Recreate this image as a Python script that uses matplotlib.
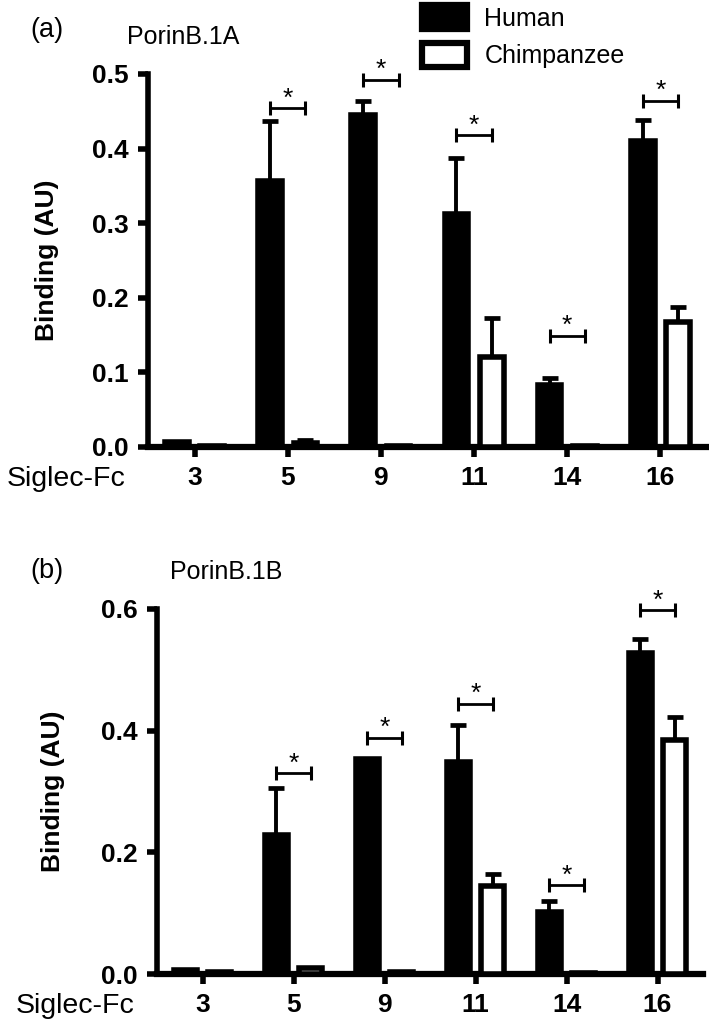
import matplotlib.pyplot as plt
import numpy as np
from matplotlib.patches import Patch

plt.rcParams['font.family'] = ['Liberation Sans', 'DejaVu Sans']

siglecs = ['3', '5', '9', '11', '14', '16']

# (a) PorinB.1A
a_human = [0.007, 0.356, 0.445, 0.313, 0.083, 0.410]
a_human_err = [0.0, 0.081, 0.019, 0.074, 0.010, 0.028]
a_chimp = [0.002, 0.006, 0.001, 0.121, 0.001, 0.168]
a_chimp_err = [0.0, 0.003, 0.0, 0.052, 0.0, 0.019]
a_sig_y = [np.nan, 0.454, 0.492, 0.418, 0.149, 0.464]

# (b) PorinB.1B
b_human = [0.007, 0.228, 0.353, 0.348, 0.102, 0.528]
b_human_err = [0.0, 0.077, 0.0, 0.062, 0.018, 0.022]
b_chimp = [0.003, 0.010, 0.003, 0.145, 0.002, 0.385]
b_chimp_err = [0.0, 0.0, 0.0, 0.019, 0.0, 0.037]
b_sig_y = [np.nan, 0.33, 0.388, 0.444, 0.146, 0.598]

W, H = 709, 1026
fig = plt.figure(figsize=(W / 100, H / 100), dpi=100)

FS = 18
off = 0.19
bw = 0.255


def draw_panel(ax, human, human_err, chimp, chimp_err, sig_y, ymax, ystep, ylab_x):
    x = np.arange(len(siglecs))
    ax.bar(x - off, human, bw, color='black', edgecolor='black', linewidth=4, zorder=3)
    ax.bar(x + off, chimp, bw, color='white', edgecolor='black', linewidth=4, zorder=3)

    # one-sided (upper) error bars, skip the ones that are zero
    for xs, vals, errs in [(x - off, human, human_err), (x + off, chimp, chimp_err)]:
        vals = np.array(vals)
        errs = np.array(errs)
        m = errs > 0
        ax.errorbar(xs[m], vals[m], yerr=[np.zeros(m.sum()), errs[m]], fmt='none',
                    ecolor='black', elinewidth=2.8, capsize=5.8, capthick=3.4, zorder=2)

    # significance brackets
    for xi, y in zip(x, sig_y):
        if np.isnan(y):
            continue
        ax.plot([xi - off, xi + off], [y, y], color='black', lw=2.0,
                marker='|', markersize=10, mew=2.2, zorder=4, clip_on=False)
        ax.annotate('*', xy=(xi, y), xytext=(0, 2), textcoords='offset points',
                    ha='center', va='baseline', fontsize=19, annotation_clip=False)

    ax.set_xlim(-0.5, len(siglecs) - 0.5)
    ax.set_ylim(0, ymax)
    ax.set_xticks(x)
    ax.set_xticklabels(siglecs, fontweight='bold')
    yt = np.arange(0, ymax + ystep / 2, ystep)
    ax.set_yticks(yt)
    ax.set_yticklabels(['%.1f' % v for v in yt], fontweight='bold')
    for s in ['top', 'right']:
        ax.spines[s].set_visible(False)
    ax.spines['left'].set_linewidth(4)
    ax.spines['bottom'].set_linewidth(4.5)
    ax.tick_params(direction='out', length=7, width=4, labelsize=19, pad=7)
    ax.annotate('Siglec-Fc', xy=(0, 0), xycoords='axes fraction', xytext=(-16, -14),
                textcoords='offset points', ha='right', va='top', fontsize=20.5)
    ax.text(ylab_x, 0.5, 'Binding (AU)', transform=ax.transAxes, rotation=90,
            ha='center', va='center', fontsize=19, fontweight='bold')


# panel (a)
ax1 = fig.add_axes([148 / W, 1 - 447 / H, (707 - 148) / W, (447 - 74) / H])
draw_panel(ax1, a_human, a_human_err, a_chimp, a_chimp_err, a_sig_y, 0.5, 0.1, -0.18)
fig.text(30 / W, 1 - 30 / H, '(a)', ha='left', va='center', fontsize=19.5)
fig.text(127 / W, 1 - 37 / H, 'PorinB.1A', ha='left', va='center', fontsize=FS)

# panel (b)
ax2 = fig.add_axes([157 / W, 1 - 974 / H, (703 - 157) / W, (974 - 609) / H])
draw_panel(ax2, b_human, b_human_err, b_chimp, b_chimp_err, b_sig_y, 0.6, 0.2, -0.19)
fig.text(30 / W, 1 - 571 / H, '(b)', ha='left', va='center', fontsize=19.5)
fig.text(170 / W, 1 - 572 / H, 'PorinB.1B', ha='left', va='center', fontsize=FS)

# legend
handles = [Patch(facecolor='black', edgecolor='black', linewidth=4.5, label='Human'),
           Patch(facecolor='white', edgecolor='black', linewidth=4.5, label='Chimpanzee')]
fig.legend(handles=handles, loc='upper left', bbox_to_anchor=(422 / W, 1 - 5 / H),
           frameon=False, fontsize=FS, borderpad=0, handlelength=1.8, handleheight=1.1,
           labelspacing=0.5, handletextpad=0.7, borderaxespad=0)

fig.savefig('out.png', dpi=100)
